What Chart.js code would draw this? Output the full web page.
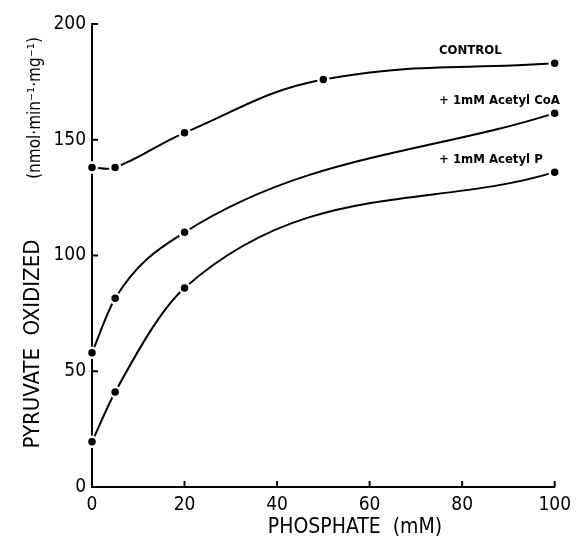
<!DOCTYPE html>
<html>
<head>
  <meta charset="UTF-8">
  <title>Pyruvate oxidized vs phosphate</title>
  <script src="https://cdn.jsdelivr.net/npm/chart.js"></script>
  <style>
    html, body { margin: 0; padding: 0; background: #fff; }
    #wrap { width: 578px; height: 539px; }
  </style>
</head>
<body>
  <div id="wrap"><canvas id="chart"></canvas></div>

  <script>
    // values
    const controlX = [0, 5, 20, 50, 100];
    const controlY = [138, 138, 153, 176, 183];
    const coaX = [0, 5, 20, 100];
    const coaY = [58, 81.5, 110, 161.5];
    const acpX = [0, 5, 20, 100];
    const acpY = [19.5, 41, 86, 136];
    const seriesNames = ['CONTROL', '+1mM Acetyl CoA', '+1mM Acetyl P'];
    const xTicks = [0, 20, 40, 60, 80, 100];
    const yTicks = [0, 50, 100, 150, 200];

    const FONT = "'DejaVu Sans Condensed', 'Liberation Sans Narrow', sans-serif";

    function pts(xs, ys) {
      return xs.map((x, i) => ({ x: x, y: ys[i] }));
    }

    function lineSet(label, xs, ys, mode) {
      return {
        label: label,
        data: pts(xs, ys),
        borderColor: '#000',
        borderWidth: 2,
        backgroundColor: '#000',
        pointBackgroundColor: '#000',
        pointBorderColor: '#fff',
        pointBorderWidth: 2.5,
        pointRadius: 5,
        tension: 0.4,
        cubicInterpolationMode: mode,
        clip: false
      };
    }

    // inward ticks, curve labels, axis titles
    const decor = {
      id: 'decor',
      afterDraw(chart) {
        const ctx = chart.ctx;
        const xs = chart.scales.x, ys = chart.scales.y;
        const area = chart.chartArea;
        ctx.save();
        ctx.strokeStyle = '#000';
        ctx.lineWidth = 2;
        yTicks.forEach(v => {
          if (v === 0) return;
          const y = ys.getPixelForValue(v);
          ctx.beginPath(); ctx.moveTo(area.left, y); ctx.lineTo(area.left + 6, y); ctx.stroke();
        });
        xTicks.forEach(v => {
          if (v === 0) return;
          const x = xs.getPixelForValue(v);
          ctx.beginPath(); ctx.moveTo(x, area.bottom); ctx.lineTo(x, area.bottom - 6); ctx.stroke();
        });

        // labels above the right-hand end of each curve
        ctx.fillStyle = '#000';
        ctx.font = 'bold 13px ' + FONT;
        ctx.textAlign = 'left';
        ctx.textBaseline = 'middle';
        const lx = xs.getPixelForValue(75);
        const lastY = [controlY[controlY.length - 1], coaY[coaY.length - 1], acpY[acpY.length - 1]];
        seriesNames.forEach((name, i) => {
          const y = ys.getPixelForValue(lastY[i]) - 13;
          ctx.fillText(name.replace('+1mM', '+ 1mM'), lx, y);
        });

        // x axis title (sits right of centre in the original)
        ctx.textAlign = 'center';
        ctx.font = '21px ' + FONT;
        ctx.fillText('PHOSPHATE  (mM)', 355, 528);

        // y axis title
        ctx.translate(33, 344);
        ctx.rotate(-Math.PI / 2);
        ctx.font = '22px ' + FONT;
        ctx.fillText('PYRUVATE  OXIDIZED', 0, 0);
        ctx.font = '17px ' + FONT;
        ctx.fillText('(nmol\u00b7min\u207b\u00b9\u00b7mg\u207b\u00b9)', 236, 3);
        ctx.restore();
      }
    };

    new Chart(document.getElementById('chart'), {
      type: 'line',
      data: {
        datasets: [
          lineSet(seriesNames[0], controlX, controlY, 'default'),
          lineSet(seriesNames[1], coaX, coaY, 'monotone'),
          lineSet(seriesNames[2], acpX, acpY, 'monotone')
        ]
      },
      options: {
        responsive: true,
        maintainAspectRatio: false,
        animation: false,
        layout: { padding: { top: 24, right: 22, left: 0, bottom: 0 } },
        plugins: {
          legend: { display: false },
          tooltip: { enabled: false }
        },
        scales: {
          x: {
            type: 'linear',
            min: 0,
            max: 100,
            afterFit(s) { s.height = 52; },
            afterBuildTicks(s) { s.ticks = xTicks.map(v => ({ value: v })); },
            grid: { display: true, drawOnChartArea: false, drawTicks: false },
            border: { display: true, color: '#000', width: 2 },
            ticks: { color: '#000', padding: 7, font: { family: FONT, size: 19 } }
          },
          y: {
            min: 0,
            max: 200,
            afterFit(s) { s.width = 92; },
            afterBuildTicks(s) { s.ticks = yTicks.map(v => ({ value: v })); },
            grid: { display: true, drawOnChartArea: false, drawTicks: false },
            border: { display: true, color: '#000', width: 2 },
            ticks: { color: '#000', padding: 6, font: { family: FONT, size: 19 } }
          }
        }
      },
      plugins: [decor]
    });
  </script>
</body>
</html>
